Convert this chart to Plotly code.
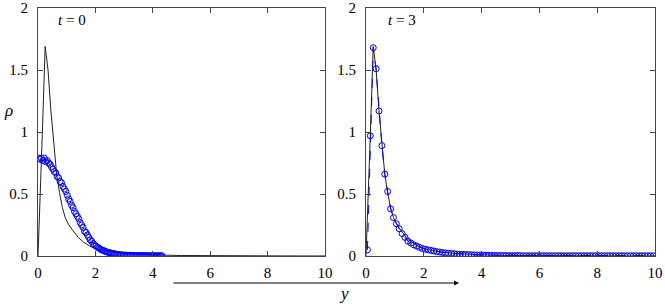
import numpy as np
import plotly.graph_objects as go

# Left panel (t = 0) circles
left_vals = [0.79, 0.78, 0.79, 0.77, 0.79, 0.76, 0.77, 0.75, 0.74, 0.72,
             0.70, 0.68, 0.67, 0.64, 0.63, 0.60, 0.59, 0.56, 0.54, 0.52,
             0.49, 0.46, 0.44, 0.41, 0.39, 0.36, 0.34, 0.32, 0.30, 0.27,
             0.25, 0.23, 0.20, 0.19, 0.17, 0.15, 0.13, 0.12, 0.10, 0.09,
             0.08, 0.07, 0.065, 0.055, 0.05, 0.045, 0.04, 0.035, 0.03, 0.028,
             0.025, 0.022, 0.02, 0.018, 0.015, 0.013, 0.012, 0.010, 0.009, 0.008,
             0.007, 0.007, 0.006, 0.006, 0.005, 0.005, 0.005, 0.004, 0.004, 0.004,
             0.004, 0.003, 0.003, 0.003, 0.003, 0.003, 0.003, 0.002, 0.002, 0.002,
             0.002, 0.002, 0.002, 0.002, 0.002, 0.002, 0.002]
left_x = np.round(0.02 + 0.05 * np.arange(len(left_vals)), 3)

# Right panel (t = 3) circles
right_vals = [0.05, 0.97, 1.68, 1.51, 1.17, 0.89, 0.66, 0.52, 0.38, 0.31,
              0.26, 0.22, 0.18, 0.15, 0.12, 0.105, 0.09, 0.08, 0.07, 0.06,
              0.055, 0.05, 0.045, 0.04, 0.035, 0.032, 0.028, 0.025, 0.022, 0.02,
              0.018, 0.016, 0.014, 0.013, 0.012, 0.011, 0.010, 0.009, 0.008, 0.008,
              0.007, 0.006, 0.006, 0.005, 0.005, 0.004, 0.004, 0.004, 0.003, 0.003,
              0.003, 0.003, 0.004, 0.003, 0.002, 0.002, 0.002, 0.002, 0.002, 0.002,
              0.002, 0.002, 0.002, 0.002, 0.002, 0.002, 0.002, 0.002, 0.002, 0.002,
              0.002, 0.002, 0.002, 0.002, 0.002, 0.002, 0.002, 0.002, 0.002, 0.002,
              0.002, 0.002, 0.002, 0.002, 0.002, 0.002, 0.002, 0.002, 0.002, 0.002,
              0.002, 0.002, 0.002, 0.002, 0.002, 0.002, 0.002, 0.002, 0.002, 0.002]
right_x = np.round(0.05 + 0.1 * np.arange(len(right_vals)), 3)

# Reference solution (black line), same in both panels
line_x = [0, 0.05, 0.15, 0.25, 0.35, 0.45, 0.55, 0.65, 0.75, 0.85, 0.95, 1.05,
          1.2, 1.4, 1.6, 1.8, 2.0, 2.5, 3.0, 3.5, 4.0, 5.0, 6.0, 7.0, 8.0, 9.0, 10.0]
line_y = [0, 0.30, 0.98, 1.69, 1.50, 1.17, 0.88, 0.66, 0.51, 0.39, 0.31, 0.26,
          0.21, 0.15, 0.11, 0.08, 0.06, 0.035, 0.022, 0.014, 0.009, 0.004, 0.002,
          0.001, 0.0005, 0.0003, 0.0002]

x_ticks = [0, 2, 4, 6, 8, 10]
y_ticks = [0, 0.5, 1, 1.5, 2]

W, H = 665, 304
BLUE = "#0000ff"
SERIF = "Liberation Serif"


def px(x):
    return x / W


def py(y):
    return 1 - y / H


fig = go.Figure()

fig.add_trace(go.Scatter(x=line_x, y=line_y, mode="lines",
                         line=dict(color="#222222", width=1),
                         xaxis="x", yaxis="y", showlegend=False))
fig.add_trace(go.Scatter(x=left_x, y=left_vals, mode="markers",
                         marker=dict(symbol="circle-open", size=6, color=BLUE,
                                     line=dict(width=1, color=BLUE)),
                         xaxis="x", yaxis="y", showlegend=False))
fig.add_trace(go.Scatter(x=line_x, y=line_y, mode="lines",
                         line=dict(color="#222222", width=1),
                         xaxis="x2", yaxis="y2", showlegend=False))
fig.add_trace(go.Scatter(x=right_x, y=right_vals, mode="lines+markers",
                         line=dict(color=BLUE, width=1, dash="dash"),
                         marker=dict(symbol="circle-open", size=6, color=BLUE,
                                     line=dict(width=1, color=BLUE)),
                         xaxis="x2", yaxis="y2", showlegend=False))

tick_font = dict(family=SERIF, size=15, color="black")
axis_common = dict(showline=True, mirror="ticks", ticks="inside", ticklen=5,
                   linecolor="#444444", linewidth=1, tickcolor="#444444",
                   showgrid=False, zeroline=False, automargin=False,
                   tickfont=tick_font)

ydom = [py(256), py(8)]
fig.update_layout(
    width=W, height=H,
    margin=dict(l=0, r=0, t=0, b=0),
    plot_bgcolor="white", paper_bgcolor="white",
    font=dict(family=SERIF, size=15, color="black"),
    xaxis=dict(domain=[px(38), px(325)], range=[0, 10], tickvals=x_ticks,
               anchor="y", ticklabelstandoff=3, **axis_common),
    yaxis=dict(domain=ydom, range=[0, 2], tickvals=y_ticks, anchor="x",
               ticklabelstandoff=6, **axis_common),
    xaxis2=dict(domain=[px(366), px(655)], range=[0, 10], tickvals=x_ticks,
                anchor="y2", ticklabelstandoff=3, **axis_common),
    yaxis2=dict(domain=ydom, range=[0, 2], tickvals=y_ticks, anchor="x2",
                ticklabelstandoff=6, **axis_common),
)

ann_font = dict(family=SERIF, size=15, color="black")
centre = dict(xref="paper", yref="paper", xanchor="center", yanchor="middle",
              showarrow=False)
fig.add_annotation(x=px(72), y=py(20), text="<i>t</i> = 0", font=ann_font,
                   **centre)
fig.add_annotation(x=px(402), y=py(20), text="<i>t</i> = 3", font=ann_font,
                   **centre)
fig.add_annotation(x=px(8), y=py(111), text="<i>ρ</i>",
                   font=dict(family=SERIF, size=17, color="black"), **centre)
fig.add_annotation(x=px(344), y=py(293), text="<i>y</i>",
                   font=dict(family=SERIF, size=17, color="black"), **centre)
fig.add_annotation(x=px(459), y=py(283), xref="paper", yref="paper",
                   ax=-287, ay=0, text="", showarrow=True,
                   arrowhead=2, arrowsize=1, arrowwidth=1, arrowcolor="black")

fig.write_html("out.html", config={"displayModeBar": False},
               post_script="document.body.style.margin='0';")
